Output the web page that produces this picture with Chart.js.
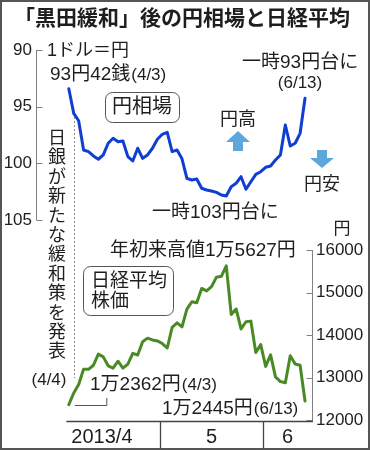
<!DOCTYPE html>
<html><head><meta charset="utf-8">
<script src="https://cdn.jsdelivr.net/npm/chart.js@4.4.1/dist/chart.umd.min.js"></script>
<style>html,body{margin:0;padding:0;background:#fff}#wrap{width:370px;height:450px;position:relative}</style>
</head><body><div id="wrap"><canvas id="c" width="370" height="450"></canvas></div>
<script>
const dates = ['4/3','4/4','4/5','4/8','4/9','4/10','4/11','4/12','4/15','4/16','4/17','4/18','4/19','4/22','4/23','4/24','4/25','4/26','4/30',
  '5/1','5/2','5/7','5/8','5/9','5/10','5/13','5/14','5/15','5/16','5/17','5/20','5/21','5/22','5/23','5/24','5/27','5/28','5/29','5/30','5/31',
  '6/3','6/4','6/5','6/6','6/7','6/10','6/11','6/12','6/13'];
const yenValues = [93.42,95.59,96.24,98.82,98.97,99.35,99.64,99.26,98.23,97.79,98.09,98.03,99.41,99.79,98.67,99.56,99.26,98.67,97.88,
  97.44,97.26,98.97,98.82,99.6,101.32,101.47,101.38,102.2,102.35,102.44,102.56,102.79,102.88,102.06,101.76,101.18,102.29,101.62,100.97,100.74,
  100.35,100.24,99.71,99.26,96.62,98.47,98.23,97.35,94.26];
const nikkeiValues = [12362.20,12634.54,12833.64,13192.59,13192.35,13288.13,13549.16,13485.14,13275.66,13221.44,13382.89,13220.07,13316.48,13568.37,13529.65,13843.46,13926.08,13884.13,13860.86,
  13799.35,13694.04,14180.24,14285.69,14191.48,14607.54,14782.21,14758.22,15096.03,15037.24,15138.12,15360.81,15381.02,15627.26,14483.98,14612.45,14142.65,14311.98,14326.46,13589.03,13774.54,
  13261.82,13533.76,13014.87,12904.02,12877.53,13514.20,13317.62,13289.32,12445.38];
const yenTicks = [90,95,100,105];
const nikkeiTicks = [12000,13000,14000,15000,16000];
const monthLabels = ['2013/4','5','6'];

const FAM = '"Liberation Sans", "Noto Sans CJK JP", sans-serif';
const font = (s, w) => `${w || 'normal'} ${s}px ${FAM}`;
const TXT = '#1e1e1e';

const decor = {
  id: 'decor',
  afterDraw(chart) {
    const c = chart.ctx, xs = chart.scales.x, ys = chart.scales.y, y2 = chart.scales.y2, a = chart.chartArea;
    const px = i => xs.getPixelForValue(i);
    c.save();
    // frame
    c.strokeStyle = '#555'; c.lineWidth = 2; c.strokeRect(1, 1, 368, 448);
    // left axis
    c.strokeStyle = '#808080'; c.lineWidth = 1;
    c.beginPath();
    const lx = Math.round(a.left) + 0.5;
    c.moveTo(lx, ys.getPixelForValue(yenTicks[0])); c.lineTo(lx, ys.getPixelForValue(yenTicks[yenTicks.length - 1]));
    yenTicks.forEach(v => { const yy = Math.round(ys.getPixelForValue(v)) + 0.5; c.moveTo(lx, yy); c.lineTo(lx + 6, yy); });
    // right axis
    const rx = Math.round(a.right) + 0.5;
    c.moveTo(rx, y2.getPixelForValue(nikkeiTicks[nikkeiTicks.length - 1])); c.lineTo(rx, a.bottom + 2);
    nikkeiTicks.forEach(v => { const yy = Math.round(y2.getPixelForValue(v)) + 0.5; c.moveTo(rx, yy); c.lineTo(rx - 6, yy); });
    c.stroke();
    // bottom axis
    c.strokeStyle = '#444'; c.lineWidth = 1.3;
    c.beginPath();
    const by = Math.round(a.bottom) + 1.5;
    c.moveTo(px(-0.5), by); c.lineTo(a.right + 1, by);
    const bounds = [];
    for (let i = 1; i < dates.length; i++) {
      if (dates[i].split('/')[0] !== dates[i - 1].split('/')[0]) bounds.push(i - 0.5);
    }
    bounds.forEach(b => { const bx = Math.round(px(b)) + 0.5; c.moveTo(bx, by); c.lineTo(bx, 449); });
    c.stroke();
    // month labels
    const edges = [a.left + 8, ...bounds.map(px), a.right];
    c.fillStyle = TXT; c.font = font(20); c.textAlign = 'center'; c.textBaseline = 'middle';
    monthLabels.forEach((m, k) => c.fillText(m, (edges[k] + edges[k + 1]) / 2, 437));
    // dotted BOJ line
    c.strokeStyle = '#888'; c.lineWidth = 1; c.setLineDash([2, 2]);
    c.beginPath(); const dx = Math.round(px(1)) + 0.5; c.moveTo(dx, 117); c.lineTo(dx, 378); c.stroke();
    c.setLineDash([]);
    // callout for 4/3 nikkei
    c.strokeStyle = '#555'; c.lineWidth = 1;
    c.beginPath(); c.moveTo(px(0) + 6, 405.5); c.lineTo(px(0) + 38, 405.5); c.lineTo(px(0) + 38, 398); c.stroke();

    const t = (s, x, y, size, align, w) => { c.font = font(size, w); c.textAlign = align || 'left'; c.textBaseline = 'middle'; c.fillText(s, x, y); return c.measureText(s).width; };
    c.fillStyle = TXT;
    // title
    c.font = `bold 21px "Noto Sans CJK JP", sans-serif`; c.textAlign = 'left'; c.textBaseline = 'middle';
    c.fillText('「黒田緩和」後の円相場と日経平均', 14, 17);
    // yen annotations
    t('1ドル＝円', 47, 51, 18);
    let w = t('93円42銭', 50, 75, 19); t('(4/3)', 50 + w + 1, 75, 17);
    t('一時103円台に', 152, 213, 19);
    t('一時93円台に', 242, 63, 19);
    t('(6/13)', 300, 83, 17, 'center');
    t('円高', 238, 120, 18, 'center');
    t('円安', 322, 185, 18, 'center');
    t('円', 342, 229, 17, 'center');
    // nikkei annotations
    t('年初来高値1万5627円', 110, 251, 19);
    w = t('1万2362円', 90, 385, 19); t('(4/3)', 90 + w + 1, 385, 17);
    w = t('1万2445円', 162, 409, 19); t('(6/13)', 162 + w + 1, 409, 17);
    // vertical text
    const vt = '日銀が新たな緩和策を発表';
    [...vt].forEach((ch, k) => t(ch, 57, 139 + k * 19.4, 18, 'center'));
    t('(4/4)', 49, 380, 17, 'center');
    // boxes
    const box = (x0, y0, x1, y1) => { c.beginPath(); c.roundRect(x0 + 0.5, y0 + 0.5, x1 - x0, y1 - y0, 7); c.fillStyle = '#fff'; c.fill(); c.strokeStyle = '#555'; c.lineWidth = 1; c.stroke(); c.fillStyle = TXT; };
    box(105, 92, 179, 122);
    t('円相場', 142, 107.5, 20, 'center');
    box(83, 266, 173, 315);
    t('日経平均', 91, 281.5, 19);
    t('株価', 91, 301.5, 19);
    // arrows
    c.fillStyle = '#5ea7dc';
    c.beginPath();
    c.moveTo(238, 131); c.lineTo(250, 142); c.lineTo(243, 142); c.lineTo(243, 151); c.lineTo(233, 151); c.lineTo(233, 142); c.lineTo(226, 142); c.closePath(); c.fill();
    c.beginPath();
    c.moveTo(322, 168); c.lineTo(334, 158); c.lineTo(327, 158); c.lineTo(327, 150); c.lineTo(317, 150); c.lineTo(317, 158); c.lineTo(310, 158); c.closePath(); c.fill();
    c.restore();
  }
};

new Chart(document.getElementById('c'), {
  type: 'line',
  data: {
    datasets: [
      { label: '円相場', data: yenValues.map((v, i) => ({ x: i, y: v })), yAxisID: 'y', borderColor: '#0f3fd2', borderWidth: 3, pointRadius: 0, tension: 0, borderJoinStyle: 'round', borderCapStyle: 'round' },
      { label: '日経平均株価', data: nikkeiValues.map((v, i) => ({ x: i, y: v })), yAxisID: 'y2', borderColor: '#4a8a25', borderWidth: 3, pointRadius: 0, tension: 0, borderJoinStyle: 'round', borderCapStyle: 'round' }
    ]
  },
  options: {
    responsive: false, animation: false,
    layout: { padding: { top: 50, bottom: 30, left: 0, right: 0 } },
    plugins: { legend: { display: false }, tooltip: { enabled: false }, title: { display: false } },
    scales: {
      x: { type: 'linear', min: -6.667, max: 49.42, display: false },
      y: {
        type: 'linear', position: 'left', reverse: true, min: 90, max: 122.647,
        grid: { display: false, drawTicks: false }, border: { display: false },
        ticks: { padding: 4, font: { family: FAM, size: 17 }, color: TXT, callback: v => String(v) },
        afterBuildTicks: s => { s.ticks = yenTicks.map(v => ({ value: v })); },
        afterFit: s => { s.width = 36; }
      },
      y2: {
        type: 'linear', position: 'right', min: 12000, max: 20706,
        grid: { display: false, drawTicks: false }, border: { display: false },
        ticks: { padding: 4, font: { family: FAM, size: 17 }, color: TXT, callback: v => String(v) },
        afterBuildTicks: s => { s.ticks = nikkeiTicks.map(v => ({ value: v })); },
        afterFit: s => { s.width = 58; }
      }
    }
  },
  plugins: [decor]
});
</script>
</body></html>
